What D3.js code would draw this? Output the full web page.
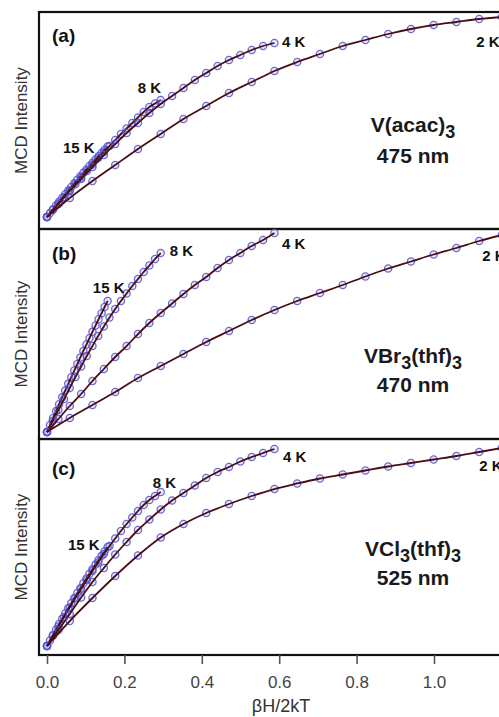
<!DOCTYPE html>
<html><head><meta charset="utf-8">
<script src="https://cdn.jsdelivr.net/npm/d3@7"></script>
<style>
body{margin:0;background:#fff;}
svg{display:block;}
text{font-family:"Liberation Sans",Arial,Helvetica,sans-serif;}
</style>
</head><body>
<svg id="chart" width="499" height="717"></svg>
<script>
// ---- data (βH/2kT values at 21 field points for each temperature) ----
const temps = ["2 K", "4 K", "8 K", "15 K"];
const x2K  = [0, .0588, .1175, .1763, .2351, .2939, .3526, .4114, .4702, .5290, .5877, .6465, .7053, .7641, .8228, .8816, .9404, .9992, 1.0579, 1.1167, 1.1755];
const x4K  = [0, .0294, .0588, .0882, .1175, .1469, .1763, .2057, .2351, .2645, .2939, .3232, .3526, .3820, .4114, .4408, .4702, .4996, .5290, .5583, .5877];
const x8K  = [0, .0147, .0294, .0441, .0588, .0735, .0882, .1028, .1175, .1322, .1469, .1616, .1763, .1910, .2057, .2204, .2351, .2498, .2645, .2792, .2939];
const x15K = [0, .0078, .0157, .0235, .0313, .0392, .0470, .0549, .0627, .0705, .0784, .0862, .0940, .1019, .1097, .1175, .1254, .1332, .1411, .1489, .1567];

// (a) V(acac)3, 475 nm  (normalised MCD intensity)
const a2K  = [0, .095, .18, .26, .34, .415, .49, .555, .62, .675, .73, .775, .815, .855, .885, .915, .94, .96, .975, .99, 1.0];
const a4K  = [0, .065, .13, .19, .25, .31, .365, .42, .47, .52, .565, .605, .645, .685, .72, .755, .785, .81, .835, .855, .87];
const a8K  = [0, .035, .0675, .1, .1325, .165, .1975, .23, .2625, .295, .325, .355, .385, .415, .4425, .47, .4975, .525, .55, .5675, .585];
const a15K = [0, .0195, .0388, .0579, .0768, .0955, .114, .1323, .1504, .1683, .186, .2035, .2208, .2379, .2548, .2715, .288, .3043, .3204, .3363, .352];

// (b) VBr3(thf)3, 470 nm
const b2K  = [0, .0707, .1364, .202, .2727, .3333, .3939, .4545, .5101, .5657, .6162, .6616, .702, .7424, .7854, .8258, .8611, .8965, .9293, .9646, .9949];
const b4K  = [0, .0657, .1313, .1919, .2576, .3182, .3788, .4343, .4949, .5505, .601, .649, .697, .7424, .7828, .8283, .8687, .904, .9394, .9697, 1.005];
const b8K  = [0, .0556, .1111, .1667, .2222, .2778, .3308, .3838, .4343, .4848, .5328, .5783, .6212, .6616, .6995, .7374, .7727, .8081, .8409, .8737, .904];
const b15K = [0, .0355, .0708, .1057, .1405, .175, .2092, .2432, .2769, .3104, .3436, .3766, .4093, .4418, .474, .5059, .5376, .5691, .6003, .6312, .6619];

// (c) VCl3(thf)3, 525 nm
const c2K  = [0, .1256, .2412, .3518, .4548, .5452, .6131, .6683, .7136, .7538, .7889, .8166, .8417, .8618, .8819, .902, .9196, .9372, .9548, .9749, .995];
const c4K  = [0, .0804, .1608, .2437, .3216, .392, .4598, .5226, .5829, .6357, .6859, .7312, .7688, .8065, .8442, .8744, .8995, .9271, .9497, .9698, .9899];
const c8K  = [0, .0503, .098, .1457, .1935, .2412, .2864, .3317, .3769, .4196, .4623, .5025, .5402, .5779, .6131, .6457, .6784, .7085, .7337, .7538, .7739];
const c15K = [0, .0281, .0559, .0834, .1105, .1373, .1637, .1898, .2155, .2409, .266, .2907, .315, .339, .3627, .386, .409, .4316, .4539, .4759, .4975];

const xTicks = [0, 0.2, 0.4, 0.6, 0.8, 1.0];
const panelLetters = ["(a)", "(b)", "(c)"];
const compounds = [[["V(acac)", 0], ["3", 1]], [["VBr", 0], ["3", 1], ["(thf)", 0], ["3", 1]], [["VCl", 0], ["3", 1], ["(thf)", 0], ["3", 1]]];
const wavelengths = ["475 nm", "470 nm", "525 nm"];
const xTitle = "βH/2kT";
const yTitle = "MCD Intensity";

// ---- layout ----
const svg = d3.select("#chart");
const xs = [x2K, x4K, x8K, x15K];
const x = d3.scaleLinear().domain([0, 1]).range([47, 434]);

const panels = [
  { top: 12,  bottom: 229, r0: 217, r1: 17,  series: [a2K, a4K, a8K, a15K], letterY: 42,  nameY: 132, nmY: 163,
    tl: [[19, -3, 28, "start"], [20, 7.5, 4, "start"], [20, -23, -7, "start"], [20, -13, 6, "end"]] },
  { top: 229, bottom: 439, r0: 432, r1: 234, series: [b2K, b4K, b8K, b15K], letterY: 260, nameY: 363, nmY: 392,
    tl: [[19, 3, 20, "start"], [20, 7.5, 16, "start"], [20, 9, 3, "start"], [20, 1, -8, "middle"]] },
  { top: 439, bottom: 655, r0: 646, r1: 447, series: [c2K, c4K, c8K, c15K], letterY: 475, nameY: 556, nmY: 585,
    tl: [[19, 0, 19, "start"], [20, 8.5, 13, "start"], [20, -8, -4, "start"], [20, -8, 3, "end"]] }
];

panels.forEach((p, pi) => {
  const y = d3.scaleLinear().domain([0, 1]).range([p.r0, p.r1]);
  const g = svg.append("g");

  // frame
  g.append("rect").attr("x", 39).attr("y", p.top).attr("width", 520).attr("height", p.bottom - p.top)
    .attr("fill", "none").attr("stroke", "#111").attr("stroke-width", 2.2);

  const line = d3.line().x(d => x(d[0])).y(d => y(d[1])).curve(d3.curveMonotoneX);

  // draw from 15 K to 2 K
  [3, 2, 1, 0].forEach(si => {
    const pts = xs[si].map((xv, i) => [xv, p.series[si][i]]);
    g.append("g").selectAll("circle").data(pts).join("circle")
      .attr("cx", d => x(d[0])).attr("cy", d => y(d[1])).attr("r", 3.6)
      .attr("fill", "rgba(110,110,225,0.15)")
      .attr("stroke", "#5252cc").attr("stroke-opacity", 0.85).attr("stroke-width", 1.3);
    g.append("path").datum(pts).attr("d", line)
      .attr("fill", "none").attr("stroke", "#4a0d13").attr("stroke-width", 1.8);
  });

  // temperature labels
  p.tl.forEach((t, si) => {
    const [idx, dx, dy, anchor] = t;
    g.append("text")
      .attr("x", x(xs[si][idx]) + dx).attr("y", y(p.series[si][idx]) + dy)
      .attr("text-anchor", anchor).attr("font-size", 15).attr("font-weight", "bold").attr("fill", "#111")
      .text(temps[si]);
  });

  // panel letter
  g.append("text").attr("x", 52).attr("y", p.letterY).attr("font-size", 19).attr("font-weight", "bold")
    .attr("fill", "#111").text(panelLetters[pi]);

  // compound name
  const nt = g.append("text").attr("x", 413).attr("y", p.nameY).attr("text-anchor", "middle")
    .attr("font-size", 21).attr("font-weight", "bold").attr("fill", "#1a1a1a");
  compounds[pi].forEach(([s, sub], k) => {
    const prevSub = k > 0 ? compounds[pi][k - 1][1] : 0;
    const ts = nt.append("tspan").text(s);
    if (sub) ts.attr("font-size", 18).attr("dy", prevSub ? 0 : 6);
    else if (prevSub) ts.attr("dy", -6);
  });
  g.append("text").attr("x", 413).attr("y", p.nmY).attr("text-anchor", "middle")
    .attr("font-size", 21).attr("font-weight", "bold").attr("fill", "#1a1a1a").text(wavelengths[pi]);

  // y title
  const cy = (p.top + p.bottom) / 2;
  g.append("text").attr("transform", `translate(27,${cy}) rotate(-90)`).attr("text-anchor", "middle")
    .attr("font-size", 17).attr("fill", "#333").text(yTitle);
});

// bottom axis
const ax = svg.append("g").attr("transform", "translate(0,655)")
  .call(d3.axisBottom(x).tickValues(xTicks).tickSize(9).tickPadding(12).tickFormat(d3.format(".1f")));
ax.select(".domain").remove();
ax.selectAll(".tick line").attr("stroke", "#555").attr("stroke-width", 1.6);
ax.selectAll(".tick text").attr("font-size", 17).attr("fill", "#444")
  .attr("font-family", "'Liberation Sans', Arial, sans-serif");

svg.append("text").attr("x", 281).attr("y", 712).attr("text-anchor", "middle")
  .attr("font-size", 18).attr("fill", "#333").text(xTitle);
</script>
</body></html>
